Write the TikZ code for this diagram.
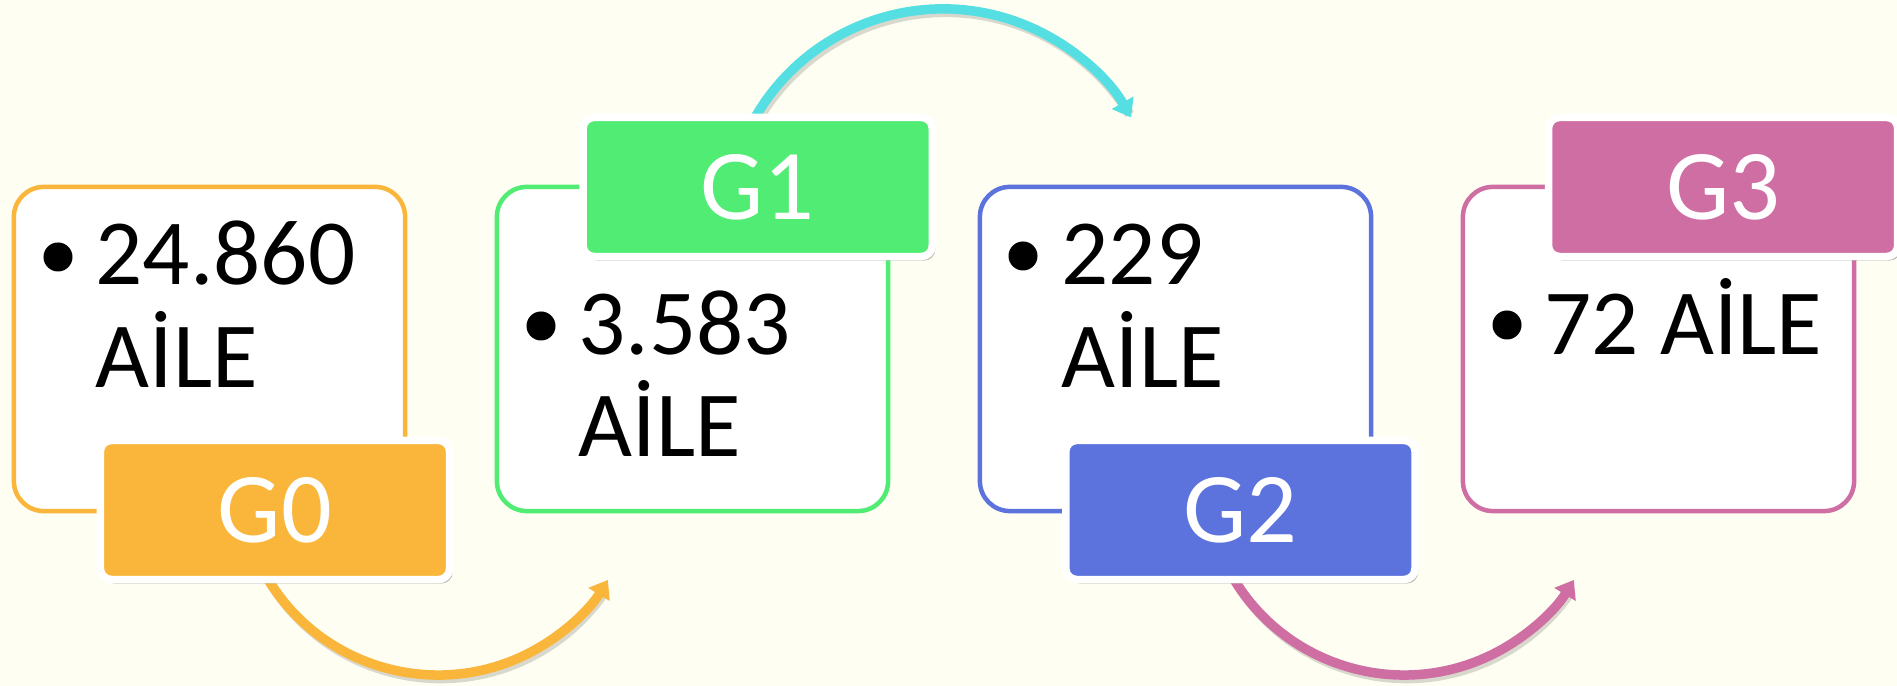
\documentclass[tikz,border=0pt]{standalone}
\usepackage{fontspec}
\setmainfont{Carlito}
\usetikzlibrary{arrows.meta,shadows}
\definecolor{bgc}{HTML}{FEFEF2}
\definecolor{orangec}{HTML}{F9B63B}
\definecolor{greenc}{HTML}{50EC73}
\definecolor{bluec}{HTML}{5C73DE}
\definecolor{pinkc}{HTML}{CF6EA3}
\definecolor{cyanc}{HTML}{55DFE2}
\begin{document}
\begin{tikzpicture}[x=0.01cm,y=0.01cm,
  card/.style={draw, line width=0.045cm, fill=white, rounded corners=0.3cm,
    minimum width=3.91cm, minimum height=3.24cm, inner sep=0pt},
  tab/.style={draw=white, line width=0.075cm, rounded corners=0.11cm,
    minimum width=3.49cm, minimum height=1.39cm, inner sep=0pt, text=white,
    font=\fontsize{28.5pt}{30pt}\selectfont,
    drop shadow={shadow xshift=0.03cm, shadow yshift=-0.04cm, opacity=0.25, fill=black}},
  body/.style={anchor=base west, inner sep=0pt, font=\fontsize{26.5pt}{30pt}\selectfont},
  bul/.style={circle, fill=black, minimum size=0.29cm, inner sep=0pt},
  flow/.style={line width=0.095cm, -{Triangle[width=0.24cm,length=0.17cm]}},
  flowshadow/.style={line width=0.095cm, draw=black, opacity=0.15}]

\fill[bgc] (0,0) rectangle (1897,686);
\useasboundingbox (0,0) rectangle (1897,686);

% cards
\node[card, draw=orangec] (b0) at (209.5,337) {};
\node[card, draw=greenc]  (b1) at (692.5,337) {};
\node[card, draw=bluec]   (b2) at (1175.5,337) {};
\node[card, draw=pinkc]   (b3) at (1658.5,337) {};

% arc start points (hidden under the tabs)
\coordinate (a0) at (262.3,116.6);
\coordinate (a1) at (746.3,551.7);
\coordinate (a2) at (1228.3,116.6);

% arc shadows
\draw[flowshadow] ([shift={(2.5,-3.5)}]a0) arc[start angle=208, end angle=326, radius=1.99cm];
\draw[flowshadow] ([shift={(2.5,-3.5)}]a1) arc[start angle=155, end angle=32, radius=2.17cm];
\draw[flowshadow] ([shift={(2.5,-3.5)}]a2) arc[start angle=208, end angle=326, radius=1.99cm];

% arcs
\draw[flow, draw=orangec] (a0) arc[start angle=208, end angle=328.5, radius=1.99cm];
\draw[flow, draw=cyanc] (a1) arc[start angle=155, end angle=30, radius=2.17cm];
\draw[flow, draw=pinkc] (a2) arc[start angle=208, end angle=328.5, radius=1.99cm];

% tabs
\node[tab, fill=orangec] (g0) at (275,176) {G0};
\node[tab, fill=greenc]  (g1) at (757.7,499) {G1};
\node[tab, fill=bluec]   (g2) at (1240.4,176) {G2};
\node[tab, fill=pinkc]   (g3) at (1723.1,499) {G3};

% bullets
\node[bul] (u0) at (58,429) {};
\node[bul] (u1) at (541,360) {};
\node[bul] (u2) at (1023,430) {};
\node[bul] (u3) at (1507,361) {};

% texts
\node[body] (t0a) at (95,401) {24.860};
\node[body] (t0b) at (95,298) {AİLE};
\node[body] (t1a) at (578,331) {3.583};
\node[body] (t1b) at (578,229) {AİLE};
\node[body] (t2a) at (1061,401) {229};
\node[body] (t2b) at (1061,298) {AİLE};
\node[body] (t3a) at (1544,331) {72 AİLE};
\end{tikzpicture}
\end{document}
